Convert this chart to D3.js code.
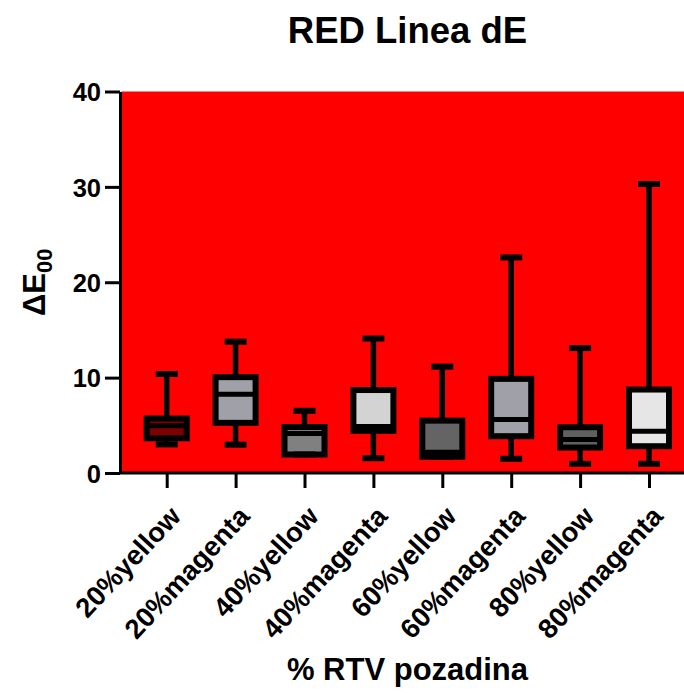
<!DOCTYPE html>
<html>
<head>
<meta charset="utf-8">
<script src="https://cdn.jsdelivr.net/npm/d3@7/dist/d3.min.js"></script>
<style>
  html, body { margin: 0; padding: 0; background: #fff; }
  svg { display: block; font-family: "Liberation Sans", Arial, sans-serif; font-weight: bold; }
</style>
</head>
<body>
<div id="chart"></div>
<script>
const categories = ["20%yellow", "20%magenta", "40%yellow", "40%magenta", "60%yellow", "60%magenta", "80%yellow", "80%magenta"];
const mins    = [3.0, 2.97, 1.94, 1.55, 1.71, 1.49, 0.96, 0.96];
const q1s     = [3.64, 5.26, 1.94, 4.42, 1.71, 3.86, 2.67, 2.81];
const medians = [4.95, 8.26, 4.15, 4.87, 2.17, 5.61, 3.51, 4.39];
const q3s     = [5.71, 10.05, 4.82, 8.7, 5.49, 9.87, 4.8, 8.75];
const maxs    = [10.38, 13.77, 6.52, 14.1, 11.15, 22.6, 13.1, 30.3];
const fills   = ["#800000", "#a0a0a8", "#808080", "#d3d3d3", "#646464", "#a0a0a8", "#606060", "#e6e6e6"];
const yTicks  = [0, 10, 20, 30, 40];

const W = 684, H = 693;
const svg = d3.select("#chart").append("svg").attr("width", W).attr("height", H);

const plotL = 120, plotR = 695, plotT = 91.5, plotB = 473;
const y = d3.scaleLinear().domain([0, 40]).range([plotB, plotT]);
const x = d3.scalePoint().domain(categories).range([166.7, 649]);

// background
svg.append("rect").attr("x", plotL + 1.5).attr("y", y(40)).attr("width", plotR - plotL)
  .attr("height", y(0) - y(40)).attr("fill", "#ff0000");

const data = categories.map((c, i) => ({c, min: mins[i], q1: q1s[i], med: medians[i], q3: q3s[i], max: maxs[i], fill: fills[i]}));
const boxW = 40, capW = 22, sw = 6;

const g = svg.append("g").selectAll("g").data(data).join("g");
g.append("line").attr("x1", d => x(d.c)).attr("x2", d => x(d.c))
  .attr("y1", d => y(d.min)).attr("y2", d => y(d.max)).attr("stroke", "#000").attr("stroke-width", 5.5);
g.append("rect").attr("x", d => x(d.c) - boxW / 2).attr("width", boxW)
  .attr("y", d => y(d.q3)).attr("height", d => y(d.q1) - y(d.q3))
  .attr("fill", d => d.fill).attr("stroke", "#000").attr("stroke-width", sw);
g.append("line").attr("x1", d => x(d.c) - boxW / 2).attr("x2", d => x(d.c) + boxW / 2)
  .attr("y1", d => y(d.med)).attr("y2", d => y(d.med)).attr("stroke", "#000").attr("stroke-width", 5);
g.append("line").attr("x1", d => x(d.c) - capW / 2).attr("x2", d => x(d.c) + capW / 2)
  .attr("y1", d => y(d.max)).attr("y2", d => y(d.max)).attr("stroke", "#000").attr("stroke-width", sw);
g.append("line").attr("x1", d => x(d.c) - capW / 2).attr("x2", d => x(d.c) + capW / 2)
  .attr("y1", d => y(d.min)).attr("y2", d => y(d.min)).attr("stroke", "#000").attr("stroke-width", sw);

// y axis
const yAxis = svg.append("g").attr("transform", `translate(${plotL},0)`)
  .call(d3.axisLeft(y).tickValues(yTicks).tickSize(15).tickSizeOuter(0).tickPadding(5));
yAxis.select(".domain").attr("stroke", "#000").attr("stroke-width", 3);
yAxis.selectAll(".tick line").attr("stroke", "#000").attr("stroke-width", 3);
yAxis.selectAll(".tick text").attr("font-size", 25.5).attr("font-weight", "bold").attr("fill", "#000")
  .attr("font-family", "Liberation Sans, Arial, sans-serif").attr("dy", "0.36em").attr("x", -19);

// x axis
const xAxis = svg.append("g").attr("transform", `translate(0,${plotB})`)
  .call(d3.axisBottom(x).tickSize(15).tickSizeOuter(0));
xAxis.select(".domain").attr("d", `M${plotL},0H${plotR}`).attr("stroke", "#000").attr("stroke-width", 3);
xAxis.selectAll(".tick line").attr("stroke", "#000").attr("stroke-width", 3);
xAxis.selectAll(".tick text")
  .attr("font-size", 27.5).attr("font-weight", "bold").attr("fill", "#000")
  .attr("font-family", "Liberation Sans, Arial, sans-serif")
  .attr("text-anchor", "end").attr("y", 0).attr("dy", "0.35em")
  .attr("transform", "translate(8,38) rotate(-47)");

// titles
svg.append("text").attr("x", (plotL + plotR) / 2).attr("y", 43).attr("text-anchor", "middle")
  .attr("font-size", 36.5).text("RED Linea dE");
svg.append("text").attr("x", (plotL + plotR) / 2).attr("y", 680).attr("text-anchor", "middle")
  .attr("font-size", 31).text("% RTV pozadina");
const yl = svg.append("text").attr("transform", `translate(45,${(plotT + plotB) / 2}) rotate(-90)`)
  .attr("text-anchor", "middle").attr("font-size", 31);
yl.append("tspan").text("ΔE");
yl.append("tspan").attr("font-size", 22).attr("dy", 7).text("00");
</script>
</body>
</html>
